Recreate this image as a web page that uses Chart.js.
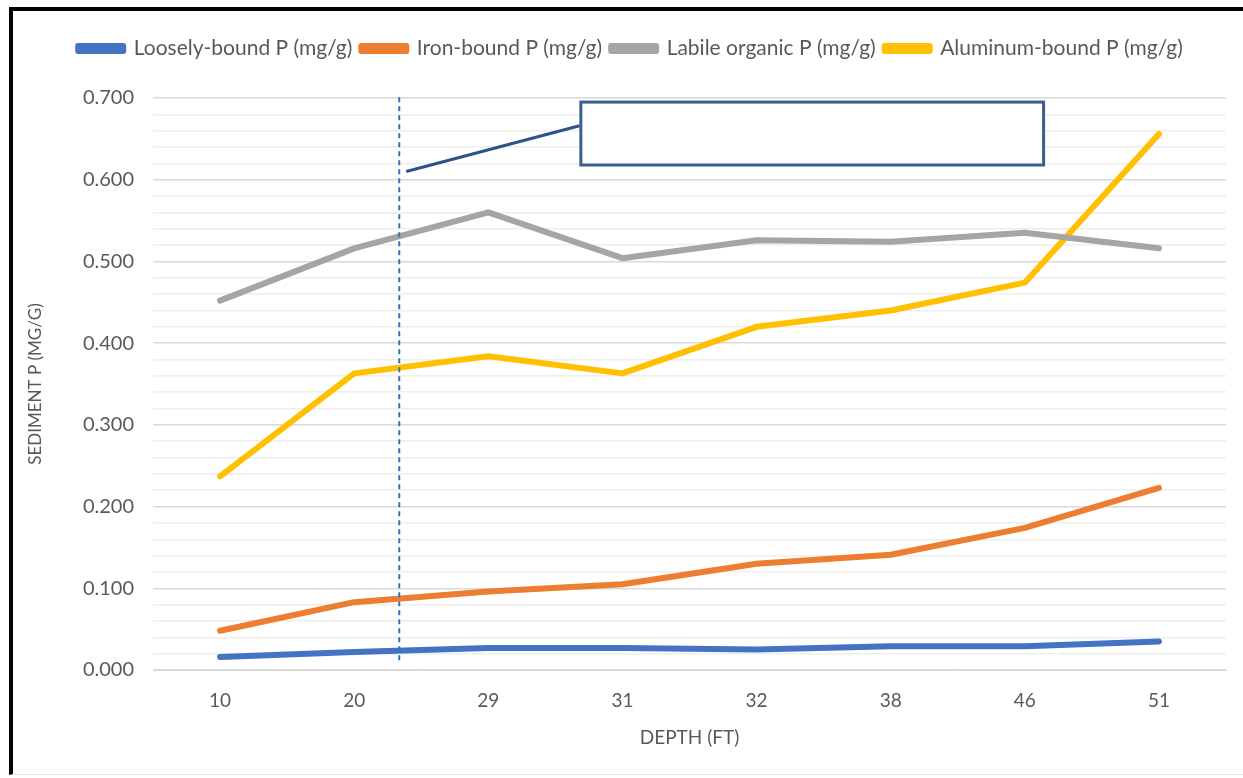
<!DOCTYPE html>
<html lang="en">
<head>
  <meta charset="UTF-8">
  <title>Sediment P by depth</title>
  <script src="https://cdn.jsdelivr.net/npm/chart.js"></script>
  <style>
    html, body { margin: 0; padding: 0; background: #fff; overflow: hidden; }
    .moldura {
      position: absolute; left: 9px; top: 7px; width: 1234px; height: 768px;
      border-top: 4px solid #000; border-left: 4px solid #000;
      border-bottom: 1px solid #e6e6e6; box-sizing: border-box;
    }
    .grafico { position: absolute; left: 0; top: 0; width: 1230px; height: 763px; }
  </style>
</head>
<body>
  <div class="moldura">
    <div class="grafico">
      <canvas id="myChart"></canvas>
    </div>
  </div>

<script>
  // profundidades (eixo x)
  const profundidades = ['10', '20', '29', '31', '32', '38', '46', '51'];

  // series (mg/g)
  const looselyBound = [0.016, 0.022, 0.027, 0.027, 0.025, 0.029, 0.029, 0.035];
  const ironBound = [0.048, 0.083, 0.096, 0.105, 0.130, 0.141, 0.174, 0.223];
  const labileOrganic = [0.452, 0.516, 0.560, 0.504, 0.526, 0.524, 0.535, 0.516];
  const aluminumBound = [0.237, 0.363, 0.384, 0.363, 0.420, 0.440, 0.474, 0.656];

  const nomesSeries = ['Loosely-bound P (mg/g)', 'Iron-bound P (mg/g)', 'Labile organic P (mg/g)', 'Aluminum-bound P (mg/g)'];
  const coresSeries = ['#4472C4', '#ED7D31', '#A5A5A5', '#FFC000'];

  const fonte = "Lato, 'Open Sans', sans-serif";

  // anotacoes (linha tracejada e caixa de texto vazia), em coordenadas dos eixos
  const linhaTracejada = { x: 1.336, yTopo: 0.701, yBase: 0.010 };
  const caixa = { x1: 2.69, x2: 6.14, yTopo: 0.695, yBase: 0.618 };
  const conector = { x1: 1.388, y1: 0.610, x2: 2.68, y2: 0.666 };

  const anotacoes = {
    id: 'anotacoes',
    afterDatasetsDraw(chart) {
      const ctx = chart.ctx;
      const sx = chart.scales.x, sy = chart.scales.y;
      ctx.save();
      // linha vertical tracejada
      ctx.strokeStyle = '#2E75B6';
      ctx.lineWidth = 2;
      ctx.setLineDash([5, 4]);
      ctx.beginPath();
      ctx.moveTo(sx.getPixelForValue(linhaTracejada.x), sy.getPixelForValue(linhaTracejada.yTopo));
      ctx.lineTo(sx.getPixelForValue(linhaTracejada.x), sy.getPixelForValue(linhaTracejada.yBase));
      ctx.stroke();
      ctx.setLineDash([]);
      // conector
      ctx.strokeStyle = '#2F5286';
      ctx.lineWidth = 3;
      ctx.beginPath();
      ctx.moveTo(sx.getPixelForValue(conector.x1), sy.getPixelForValue(conector.y1));
      ctx.lineTo(sx.getPixelForValue(conector.x2), sy.getPixelForValue(conector.y2));
      ctx.stroke();
      // caixa
      const x1 = sx.getPixelForValue(caixa.x1), x2 = sx.getPixelForValue(caixa.x2);
      const y1 = sy.getPixelForValue(caixa.yTopo), y2 = sy.getPixelForValue(caixa.yBase);
      ctx.fillStyle = '#fff';
      ctx.fillRect(x1, y1, x2 - x1, y2 - y1);
      ctx.strokeStyle = '#3B5F8C';
      ctx.lineWidth = 3;
      ctx.strokeRect(x1, y1, x2 - x1, y2 - y1);
      ctx.restore();
    }
  };

  // espaco extra abaixo da legenda e leve deslocamento para a direita
  const ajusteLegenda = {
    id: 'ajusteLegenda',
    beforeInit(chart) {
      const legenda = chart.legend;
      const fitOriginal = legenda.fit;
      legenda.fit = function () {
        fitOriginal.call(this);
        this.height += 29;
      };
      const drawOriginal = legenda.draw;
      legenda.draw = function () {
        chart.ctx.save();
        chart.ctx.translate(11, 0);
        drawOriginal.call(this);
        chart.ctx.restore();
      };
    }
  };

  const seriesValores = [looselyBound, ironBound, labileOrganic, aluminumBound];

  let dados = {
    labels: profundidades,
    datasets: seriesValores.map(function (valores, i) {
      return {
        label: nomesSeries[i],
        data: valores,
        borderColor: coresSeries[i],
        backgroundColor: coresSeries[i],
        borderWidth: 6,
        borderCapStyle: 'round',
        borderJoinStyle: 'round',
        pointRadius: 0,
        tension: 0,
        fill: false
      };
    })
  };

  const config = {
    type: 'line',
    data: dados,
    plugins: [ajusteLegenda, anotacoes],
    options: {
      responsive: true,
      maintainAspectRatio: false,
      animation: false,
      layout: { padding: { left: 0, right: 17, top: 18, bottom: 0 } },
      plugins: {
        legend: {
          position: 'top',
          labels: {
            boxWidth: 45,
            boxHeight: 5,
            padding: 9,
            color: '#595959',
            font: { family: fonte, size: 21 }
          }
        },
        tooltip: { enabled: false }
      },
      scales: {
        x: {
          offset: true,
          grid: { display: false },
          border: { color: '#d9d9d9' },
          ticks: { color: '#595959', font: { family: fonte, size: 19 }, padding: 11 },
          title: { display: true, text: 'DEPTH (FT)', color: '#595959', font: { family: fonte, size: 19 }, padding: { top: 4, bottom: 25 } },
          afterFit: function (scale) { scale.height = 104; }
        },
        y: {
          min: 0,
          max: 0.7,
          border: { display: false },
          grid: {
            drawTicks: false,
            color: function (c) {
              const v = Math.round(c.tick.value * 100);
              return v % 10 === 0 ? '#d9d9d9' : '#eeeeee';
            },
            lineWidth: 1.5
          },
          ticks: {
            stepSize: 0.02,
            autoSkip: false,
            padding: 19,
            color: '#595959',
            font: { family: fonte, size: 20 },
            callback: function (v) {
              const c = Math.round(v * 100);
              return c % 10 === 0 ? (c / 100).toFixed(3) : '';
            }
          },
          title: { display: true, text: 'SEDIMENT P (MG/G)', color: '#595959', font: { family: fonte, size: 17 }, padding: { top: 12, bottom: 8 } },
          afterFit: function (scale) { scale.width = 140; }
        }
      }
    }
  };

  let myChart = new Chart(document.getElementById('myChart'), config);
</script>
</body>
</html>
